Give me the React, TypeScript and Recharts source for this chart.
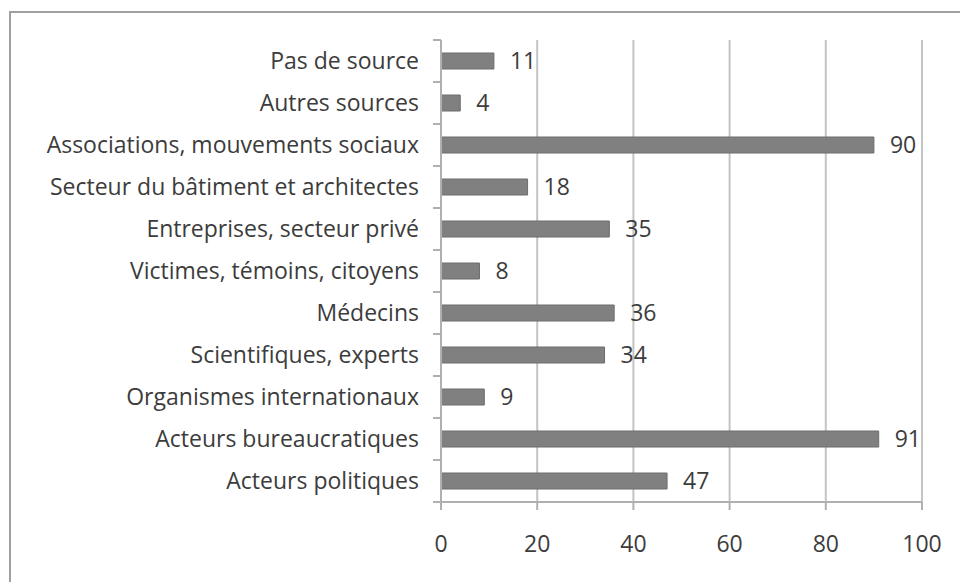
import { BarChart, Bar, XAxis, YAxis, CartesianGrid, LabelList } from 'recharts';

const categories = [
   'Pas de source',
   'Autres sources',
   'Associations, mouvements sociaux',
   'Secteur du bâtiment et architectes',
   'Entreprises, secteur privé',
   'Victimes, témoins, citoyens',
   'Médecins',
   'Scientifiques, experts',
   'Organismes internationaux',
   'Acteurs bureaucratiques',
   'Acteurs politiques',
];
const counts = [11, 4, 90, 18, 35, 8, 36, 34, 9, 91, 47];
const xTicks = [0, 20, 40, 60, 80, 100];

const data = categories.map((name, i) => ({ name, value: counts[i] }));

const FONT = '"Open Sans", sans-serif';
const TEXT = '#3c3c3c';
const AXIS_X = 441;
const BAND = 42;

function CategoryTick(props: any) {
   const { x, y, payload, index } = props;
   return (
      <g>
         <text x={x} y={y} dy="0.35em" textAnchor="end" fontFamily={FONT} fontSize={23} fill={TEXT}>
            {payload.value}
         </text>
         <line x1={AXIS_X - 8} x2={AXIS_X} y1={y - BAND / 2} y2={y - BAND / 2} stroke="#b0b0b0" strokeWidth={2} />
         {index === categories.length - 1 && (
            <line x1={AXIS_X - 8} x2={AXIS_X} y1={y + BAND / 2} y2={y + BAND / 2} stroke="#b0b0b0" strokeWidth={2} />
         )}
      </g>
   );
}

export default function App() {
   return (
      <div style={{ position: 'absolute', left: 0, top: 0, width: 960, height: 582, overflow: 'hidden', background: '#fff' }}>
         <div style={{ position: 'absolute', left: 9, top: 11, width: 1000, height: 700, borderLeft: '2px solid #a0a0a0', borderTop: '2px solid #a0a0a0' }} />
         <div style={{ position: 'absolute', left: 0, top: 0 }}>
            <BarChart width={960} height={582} data={data} layout="vertical" margin={{ top: 40, right: 38, bottom: 30, left: 0 }}>
               <CartesianGrid horizontal={false} stroke="#c4c4c4" strokeWidth={2} verticalValues={[20, 40, 60, 80, 100]} />
               <XAxis
                  type="number"
                  domain={[0, 100]}
                  ticks={xTicks}
                  height={50}
                  tickSize={8}
                  tickMargin={26}
                  stroke="#b0b0b0"
                  strokeWidth={2}
                  tick={{ fontFamily: FONT, fontSize: 23, fill: TEXT }}
               />
               <YAxis
                  type="category"
                  dataKey="name"
                  width={AXIS_X}
                  tickLine={false}
                  tickMargin={16}
                  stroke="#b0b0b0"
                  strokeWidth={2}
                  interval={0}
                  tick={<CategoryTick />}
               />
               <Bar dataKey="value" barSize={16} fill="#808080" stroke="#6c6c6c" strokeWidth={1} isAnimationActive={false}>
                  <LabelList dataKey="value" position="right" offset={16} fontFamily={FONT} fontSize={23} fill={TEXT} />
               </Bar>
            </BarChart>
         </div>
      </div>
   );
}
